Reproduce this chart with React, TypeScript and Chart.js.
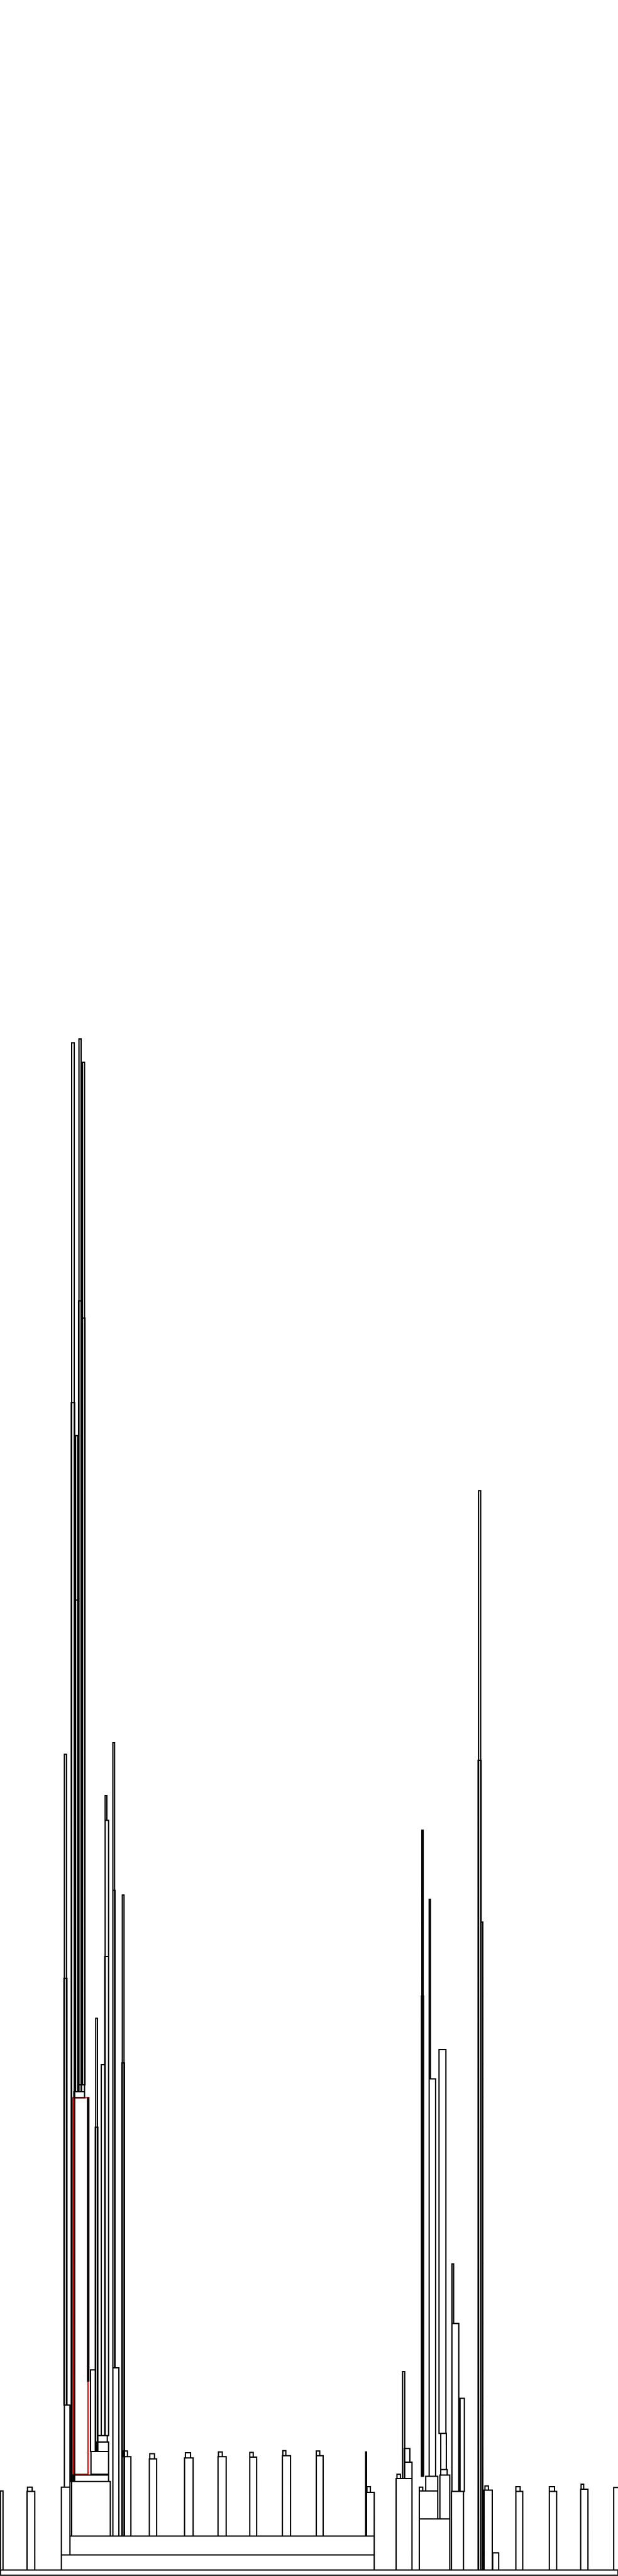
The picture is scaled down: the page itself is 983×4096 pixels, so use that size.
import React, { useEffect, useRef } from "react";
import { Chart, registerables } from "chart.js";

Chart.register(...registerables);

// Each block: [left, right, bottom, top] in chart units (x: 0..1440, y: 0..6000)
const baseBlocks: number[][] = [
  [1, 1440, 2, 14],
  [143, 872, 14, 49],
  [163, 872, 49, 93],
  [1, 7, 14, 198],
];

const pillarBlocks: number[][] = [
  [63, 81, 14, 197],
  [285, 305, 93, 278],
  [348, 365, 93, 273],
  [430, 450, 93, 275],
  [508, 527, 93, 278],
  [582, 598, 93, 277],
  [658, 677, 93, 280],
  [737, 753, 93, 280],
  [853, 872, 93, 195],
  [852, 854, 93, 289],
  [1128, 1147, 14, 200],
  [1148, 1162, 14, 54],
  [1202, 1218, 14, 197],
  [1280, 1297, 14, 197],
  [1353, 1370, 14, 202],
  [1430, 1446, 14, 206],
];

const pillarCaps: number[][] = [
  [64, 75, 197, 207],
  [287, 297, 278, 291],
  [349, 360, 273, 285],
  [432, 444, 275, 287],
  [509, 518, 278, 289],
  [582, 590, 277, 288],
  [659, 666, 280, 292],
  [737, 745, 280, 291],
  [855, 863, 195, 208],
  [1130, 1138, 200, 210],
  [1202, 1212, 197, 208],
  [1280, 1292, 197, 208],
  [1354, 1360, 202, 214],
];

const leftTower: number[][] = [
  [143, 163, 49, 207],
  [167, 257, 93, 220],
  [170, 253, 220, 235],
  [212, 253, 237, 290],
  [225, 253, 290, 312],
  [227, 250, 312, 327],
  [211, 222, 290, 480],
  [204, 207, 454, 1114],
  [223, 227, 290, 1299],
  [222, 228, 290, 1045],
  [236, 245, 327, 1191],
  [245, 253, 327, 1760],
  [244, 253, 327, 1443],
  [245, 249, 1760, 1818],
  [263, 277, 93, 485],
  [263, 267, 485, 1941],
  [263, 268, 485, 1597],
  [285, 289, 93, 1586],
  [284, 290, 93, 1195],
  [150, 163, 207, 398],
  [150, 155, 398, 1914],
  [149, 156, 398, 1392],
  [167, 173, 220, 3571],
  [166, 174, 220, 2733],
  [172, 197, 1114, 1128],
  [182, 197, 1128, 1144],
  [176, 181, 1128, 2656],
  [175, 182, 1128, 2273],
  [184, 189, 1128, 3580],
  [183, 190, 1128, 2970],
  [192, 197, 1144, 3526],
  [191, 198, 1144, 2930],
];

const highlightBlocks: number[][] = [[170, 205, 237, 1114]];

const rightTower: number[][] = [
  [923, 960, 14, 227],
  [925, 933, 227, 237],
  [942, 960, 227, 265],
  [942, 955, 265, 297],
  [938, 943, 227, 476],
  [977, 1048, 14, 133],
  [977, 1020, 133, 198],
  [977, 985, 198, 207],
  [992, 1020, 198, 232],
  [1025, 1048, 133, 235],
  [1027, 1042, 235, 248],
  [1027, 1040, 248, 332],
  [1052, 1080, 14, 197],
  [983, 986, 232, 1737],
  [982, 987, 232, 1351],
  [1000, 1015, 232, 1158],
  [1000, 1003, 1158, 1576],
  [1023, 1039, 332, 1226],
  [1053, 1069, 197, 588],
  [1053, 1057, 588, 727],
  [1072, 1082, 197, 414],
  [1115, 1120, 14, 2528],
  [1114, 1121, 14, 1900],
  [1121, 1125, 14, 1523],
];

const X_MAX = 1440;
const Y_MAX = 6000;

function outline(blocks: number[][]) {
  const pts: { x: number; y: number | null }[] = [];
  for (const [x0, x1, y0, y1] of blocks) {
    pts.push({ x: x0, y: y0 }, { x: x0, y: y1 }, { x: x1, y: y1 }, { x: x1, y: y0 }, { x: x0, y: y0 });
    pts.push({ x: x0, y: null });
  }
  return pts;
}

export default function App() {
  const ref = useRef<HTMLCanvasElement | null>(null);
  useEffect(() => {
    document.body.style.margin = "0";
    const canvas = ref.current;
    if (!canvas) return;
    const black = [...baseBlocks, ...pillarBlocks, ...pillarCaps, ...leftTower, ...rightTower];
    const common = {
      showLine: true,
      pointRadius: 0,
      pointHoverRadius: 0,
      borderWidth: 2,
      spanGaps: false,
      fill: false,
      tension: 0,
      clip: false as any,
      borderCapStyle: "square" as const,
      borderJoinStyle: "miter" as const,
    };
    const chart = new Chart(canvas, {
      type: "scatter",
      data: {
        datasets: [
          { ...common, label: "blocks", data: outline(black) as any, borderColor: "#000000" },
          { ...common, label: "selected", data: outline(highlightBlocks) as any, borderColor: "#ff0000" },
        ],
      },
      options: {
        animation: false,
        responsive: false,
        maintainAspectRatio: false,
        devicePixelRatio: 1,
        layout: { padding: 0 },
        events: [],
        plugins: { legend: { display: false }, tooltip: { enabled: false } },
        scales: {
          x: { type: "linear", min: 0, max: X_MAX, display: false },
          y: { type: "linear", min: 0, max: Y_MAX, display: false },
        },
      },
    });
    return () => chart.destroy();
  }, []);
  return (
    <div style={{ width: 983, height: 4096, background: "#fff" }}>
      <canvas ref={ref} width={983} height={4096} style={{ display: "block", width: 983, height: 4096 }} />
    </div>
  );
}
